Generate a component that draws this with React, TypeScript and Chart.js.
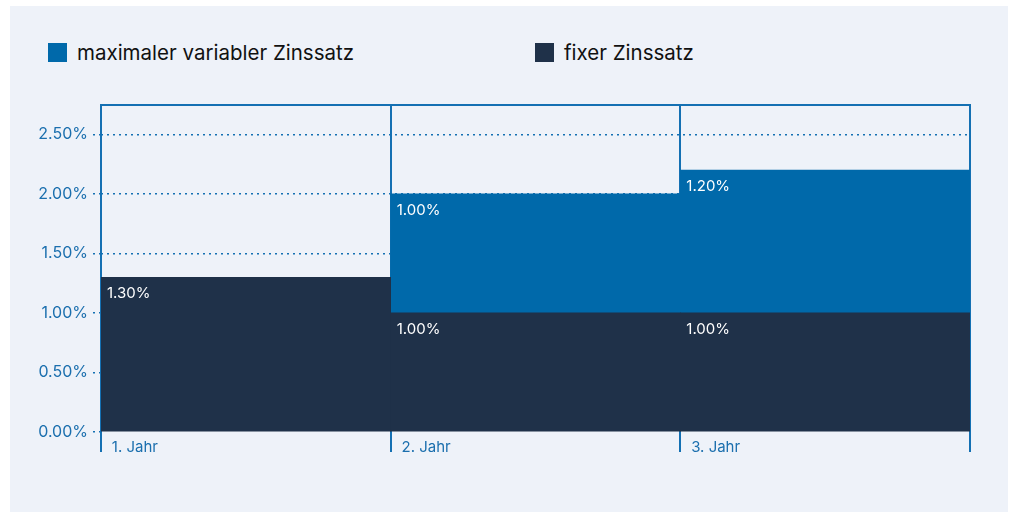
import React, { useEffect, useRef } from 'react';
import { Chart, registerables } from 'chart.js';

Chart.register(...registerables);

const categories = ['1. Jahr', '2. Jahr', '3. Jahr'];
const fixedRates: (number | null)[] = [1.3, 1.0, 1.0];
const variableRates: (number | null)[] = [null, 1.0, 1.2];
const yTicks = [0, 0.5, 1, 1.5, 2, 2.5];
const yMax = 2.75;
const seriesVariable = 'maximaler variabler Zinssatz';
const seriesFixed = 'fixer Zinssatz';

const COLOR_VAR = '#0069aa';
const COLOR_FIX = '#1f3149';
const COLOR_AXIS = '#1470b3';
const COLOR_TEXT = '#1b6fae';
const BG = '#eef2f9';
const FONT = 'Inter, "Noto Sans", sans-serif';

const barLabelPlugin = {
  id: 'barLabels',
  afterDatasetsDraw(chart: any) {
    const ctx = chart.ctx;
    ctx.save();
    ctx.font = `15px ${FONT}`;
    ctx.fillStyle = '#ffffff';
    ctx.textAlign = 'left';
    ctx.textBaseline = 'alphabetic';
    chart.data.datasets.forEach((ds: any, di: number) => {
      const meta = chart.getDatasetMeta(di);
      meta.data.forEach((el: any, i: number) => {
        const v = ds.data[i];
        if (v == null) return;
        const { x, y, width } = el.getProps(['x', 'y', 'width'], true);
        ctx.fillText(Number(v).toFixed(2) + '%', x - width / 2 + 6, y + 21);
      });
    });
    ctx.restore();
  },
};

function ChartCanvas() {
  const ref = useRef<HTMLCanvasElement>(null);
  useEffect(() => {
    if (!ref.current) return;
    Chart.defaults.font.family = FONT;
    const chart = new Chart(ref.current, {
      type: 'bar',
      data: {
        labels: categories,
        datasets: [
          {
            label: seriesFixed,
            data: fixedRates,
            backgroundColor: COLOR_FIX,
            borderWidth: 0,
            barPercentage: 1,
            categoryPercentage: 1,
          },
          {
            label: seriesVariable,
            data: variableRates,
            backgroundColor: COLOR_VAR,
            borderWidth: 0,
            barPercentage: 1,
            categoryPercentage: 1,
          },
        ],
      },
      options: {
        animation: false,
        responsive: false,
        maintainAspectRatio: false,
        layout: { padding: { top: 14, right: 44, left: 0, bottom: 0 } },
        plugins: { legend: { display: false }, tooltip: { enabled: false } },
        scales: {
          x: {
            stacked: true,
            z: 1,
            offset: true,
            grid: {
              offset: true,
              color: COLOR_AXIS,
              lineWidth: 2,
              tickLength: 20,
              tickColor: COLOR_AXIS,
              drawTicks: true,
            },
            border: { display: false },
            ticks: {
              color: COLOR_TEXT,
              font: { size: 15 },
              align: 'start',
              labelOffset: -134,
              padding: -14,
              maxRotation: 0,
              minRotation: 0,
              autoSkip: false,
            },
            afterFit: (scale: any) => {
              scale.height = 20;
            },
          },
          x2: {
            type: 'category',
            labels: categories,
            position: 'top',
            offset: true,
            grid: { display: false, drawTicks: false },
            ticks: { display: false },
            border: { display: true, color: COLOR_AXIS, width: 2 },
            afterFit: (scale: any) => {
              scale.height = 0;
            },
          },
          y: {
            stacked: true,
            min: 0,
            max: yMax,
            grid: {
              color: (c: any) => (c.tick && c.tick.value === 0 ? 'rgba(0,0,0,0)' : COLOR_AXIS),
              lineWidth: 1.5,
              tickLength: 8,
              tickColor: COLOR_AXIS,
              tickBorderDash: [2, 4],
              drawTicks: true,
            },
            border: { display: false, dash: [2, 4] },
            ticks: {
              color: COLOR_TEXT,
              font: { size: 16 },
              padding: 5,
              callback: (v: any) => Number(v).toFixed(2) + '%',
            },
            afterBuildTicks: (scale: any) => {
              scale.ticks = yTicks.map((value) => ({ value }));
            },
            afterFit: (scale: any) => {
              scale.width = 101;
            },
          },
        },
      } as any,
      plugins: [barLabelPlugin],
    });
    return () => chart.destroy();
  }, []);
  return (
    <canvas
      ref={ref}
      width={1014}
      height={362}
      style={{ position: 'fixed', left: 0, top: 90, width: 1014, height: 362 }}
    />
  );
}

function LegendItem({ x, color, text }: { x: number; color: string; text: string }) {
  return (
    <div
      style={{
        position: 'fixed',
        left: x,
        top: 43,
        display: 'flex',
        alignItems: 'center',
        height: 19,
      }}
    >
      <div style={{ width: 19, height: 19, background: color, marginRight: 10, flex: 'none' }} />
      <span
        style={{
          fontFamily: FONT,
          fontSize: 20.5,
          color: '#111111',
          lineHeight: '19px',
          whiteSpace: 'nowrap',
        }}
      >
        {text}
      </span>
    </div>
  );
}

export default function App() {
  return (
    <div>
      <div
        style={{
          position: 'fixed',
          left: 10,
          top: 6,
          right: 6,
          bottom: 0,
          background: BG,
        }}
      />
      <LegendItem x={48} color={COLOR_VAR} text={seriesVariable} />
      <LegendItem x={535} color={COLOR_FIX} text={seriesFixed} />
      <ChartCanvas />
    </div>
  );
}
